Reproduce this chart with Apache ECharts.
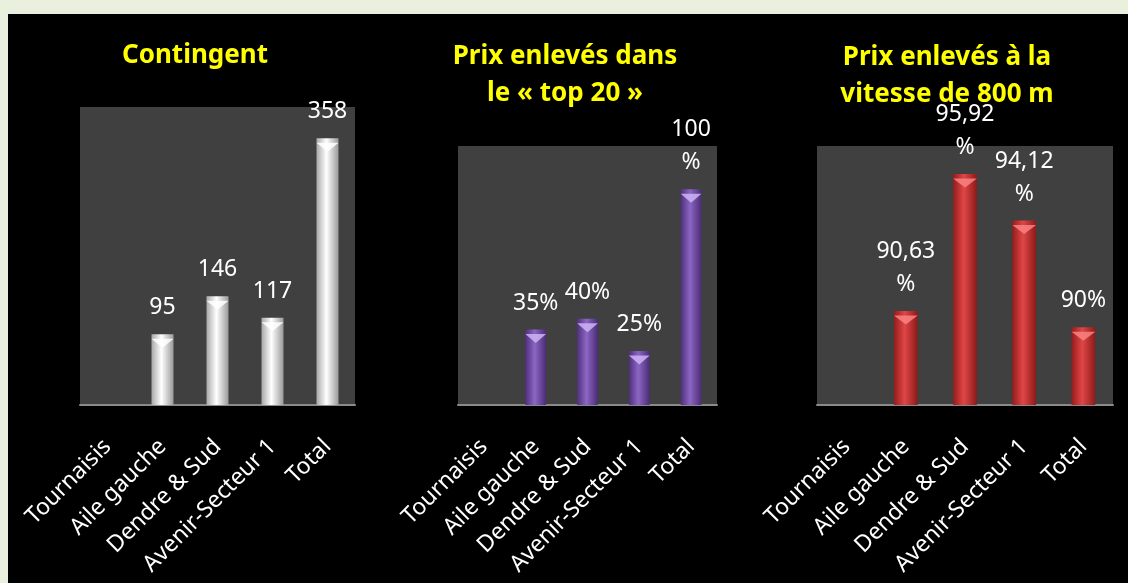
<!DOCTYPE html>
<html>
<head>
<meta charset="utf-8">
<script src="https://cdn.jsdelivr.net/npm/echarts@6/dist/echarts.min.js"></script>
<style>
html,body{margin:0;padding:0;background:#e9f0dd;}
#wrap{position:relative;width:1128px;height:583px;overflow:hidden;}
#bg{position:absolute;left:8px;top:14px;width:1120px;height:569px;background:#000;}
#chart{position:absolute;left:0;top:0;width:1128px;height:583px;}
</style>
</head>
<body>
<div id="wrap"><div id="bg"></div><div id="chart"></div></div>
<script>
// ---- data ----
const categories = ['Tournaisis', 'Aile gauche', 'Dendre & Sud', 'Avenir-Secteur 1', 'Total'];
const contingent = [null, 95, 146, 117, 358];
const top20Pct = [null, 35, 40, 25, 100];
const vitessePct = [null, 90.63, 95.92, 94.12, 90];
const titles = ['Contingent', 'Prix enlevés dans\nle « top 20 »', 'Prix enlevés à la\nvitesse de 800 m'];

const chart = echarts.init(document.getElementById('chart'));
const FONT = '"Noto Sans", "Open Sans", sans-serif';

function pctLabel(v) {
  const s = String(v).replace('.', ',');
  return s.length >= 3 ? s + '\n%' : s + '%';
}

const grids = [
  {left: 80, top: 107, width: 275, height: 298},
  {left: 458, top: 146, width: 259, height: 259},
  {left: 817, top: 146, width: 296, height: 259}
];
const yRanges = [[0, 400], [0, 120], [87, 97]];
const colors = [
  ['#a8a8a8', '#ffffff', '#9a9a9a'],
  ['#4e2f7c', '#8c66c4', '#4a2c76'],
  ['#951c1c', '#e04646', '#8c1a1a']
];
const bevel = ['rgba(255,255,255,0.85)', 'rgba(205,180,245,0.85)', 'rgba(250,130,130,0.85)'];
const seriesData = [contingent, top20Pct, vitessePct];
const formatters = [p => String(p.value), p => pctLabel(p.value), p => pctLabel(p.value)];

const option = {
  animation: false,
  backgroundColor: 'transparent',
  grid: grids.map(g => Object.assign({show: true, backgroundColor: '#404040', borderWidth: 0}, g)),
  xAxis: grids.map((g, i) => ({
    type: 'category', gridIndex: i, data: categories,
    axisLine: {show: true, lineStyle: {color: '#8a8a8a', width: 2}},
    axisTick: {show: false},
    axisLabel: {rotate: 45, color: '#ffffff', fontSize: 23, fontFamily: FONT, margin: 38, interval: 0}
  })),
  yAxis: grids.map((g, i) => ({
    type: 'value', gridIndex: i, min: yRanges[i][0], max: yRanges[i][1],
    show: false, splitLine: {show: false}
  })),
  series: [],
  graphic: titles.map((t, i) => ({
    type: 'text',
    x: [195, 565, 947][i],
    y: [56, 75, 76][i],
    style: {
      text: t, fill: '#ffff00', font: 'bold 26px ' + FONT,
      textAlign: 'center', textVerticalAlign: 'middle', lineHeight: 37
    }
  }))
};

seriesData.forEach((d, i) => {
  option.series.push({
    type: 'bar', xAxisIndex: i, yAxisIndex: i, data: d, barWidth: '40%',
    itemStyle: {
      color: new echarts.graphic.LinearGradient(0, 0, 1, 0, [
        {offset: 0, color: colors[i][0]},
        {offset: 0.45, color: colors[i][1]},
        {offset: 1, color: colors[i][2]}
      ])
    },
    label: {
      show: true, position: 'top', distance: 10, color: '#ffffff',
      fontSize: 23, fontFamily: FONT, lineHeight: 33, formatter: formatters[i]
    }
  });
  option.series.push({
    type: 'pictorialBar', xAxisIndex: i, yAxisIndex: i, data: d, barWidth: '40%',
    symbol: 'path://M0,0 L10,0 L5,4 Z', symbolSize: ['100%', 9],
    symbolPosition: 'end', symbolOffset: [0, '50%'], z: 3, silent: true,
    itemStyle: {color: bevel[i]}
  });
});

chart.setOption(option);
</script>
</body>
</html>
